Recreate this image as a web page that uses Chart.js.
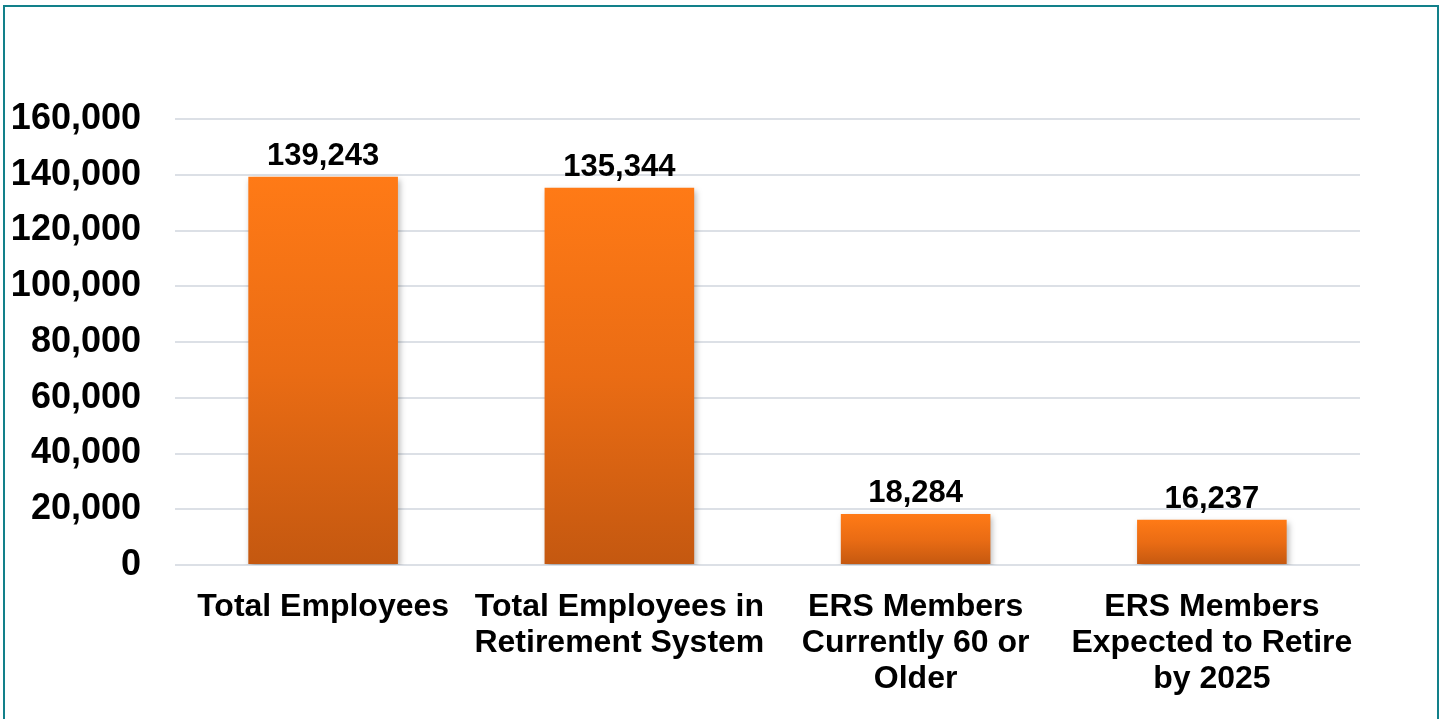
<!DOCTYPE html>
<html>
<head>
<meta charset="utf-8">
<script src="https://cdn.jsdelivr.net/npm/chart.js@4"></script>
<style>
  html, body { margin: 0; padding: 0; background: #fff; overflow: hidden; }
  .frame {
    position: absolute; left: 3px; top: 5px;
    width: 1436px; height: 800px;
    box-sizing: border-box;
    border: 2px solid #12808A;
  }
  #chart { position: absolute; left: 0; top: 0; }
</style>
</head>
<body>
<div class="frame"></div>
<canvas id="chart" width="1442" height="719"></canvas>
<script>
// Chart data
const categories = [
  ['Total Employees'],
  ['Total Employees in', 'Retirement System'],
  ['ERS Members', 'Currently 60 or', 'Older'],
  ['ERS Members', 'Expected to Retire', 'by 2025']
];
const employeeCounts = [139243, 135344, 18284, 16237];
const yTicks = [0, 20000, 40000, 60000, 80000, 100000, 120000, 140000, 160000];

const FONT = 'Arial, "Liberation Sans", sans-serif';

// Vertical orange gradient, one per bar
function barGradient(context) {
  const chart = context.chart;
  const yScale = chart.scales.y;
  if (!chart.chartArea || !yScale) return '#F27014';
  const value = context.raw;
  const top = yScale.getPixelForValue(value);
  const bottom = yScale.getPixelForValue(0);
  const g = chart.ctx.createLinearGradient(0, top, 0, bottom);
  g.addColorStop(0, '#FF7A16');
  g.addColorStop(0.5, '#EA6C14');
  g.addColorStop(1, '#C45810');
  return g;
}

// Soft drop shadow behind the bars
const barShadow = {
  id: 'barShadow',
  beforeDatasetsDraw(chart) {
    const ctx = chart.ctx;
    ctx.save();
    ctx.shadowColor = 'rgba(0,0,0,0.28)';
    ctx.shadowBlur = 6;
    ctx.shadowOffsetX = 2;
    ctx.shadowOffsetY = 3;
  },
  afterDatasetsDraw(chart) {
    chart.ctx.restore();
  }
};

// Value labels above each bar
const valueLabels = {
  id: 'valueLabels',
  afterDatasetsDraw(chart) {
    const ctx = chart.ctx;
    const meta = chart.getDatasetMeta(0);
    ctx.save();
    ctx.font = 'bold 31px ' + FONT;
    ctx.fillStyle = '#000';
    ctx.textAlign = 'center';
    ctx.textBaseline = 'bottom';
    meta.data.forEach((bar, i) => {
      const text = employeeCounts[i].toLocaleString('en-US');
      ctx.fillText(text, bar.x, bar.y - 5);
    });
    ctx.restore();
  }
};

const ctx = document.getElementById('chart').getContext('2d');
new Chart(ctx, {
  type: 'bar',
  data: {
    labels: categories,
    datasets: [{
      data: employeeCounts,
      backgroundColor: barGradient,
      borderWidth: 0,
      categoryPercentage: 1,
      barPercentage: 0.505
    }]
  },
  options: {
    responsive: false,
    animation: false,
    layout: { padding: { top: 119, right: 82, bottom: 0, left: 0 } },
    plugins: {
      legend: { display: false },
      tooltip: { enabled: false }
    },
    scales: {
      x: {
        grid: { display: false },
        border: { display: false },
        ticks: {
          color: '#000',
          padding: 16,
          maxRotation: 0,
          autoSkip: false,
          font: { family: FONT, size: 32, weight: 'bold', lineHeight: 1.125 }
        },
        afterFit(scale) { scale.height = 154; }
      },
      y: {
        min: 0,
        max: 160000,
        afterBuildTicks(scale) { scale.ticks = yTicks.map(v => ({ value: v })); },
        grid: { color: '#DCE0E6', lineWidth: 2, drawTicks: false },
        border: { display: false },
        ticks: {
          color: '#000',
          padding: 34,
          font: { family: FONT, size: 36, weight: 'bold' },
          callback: v => v.toLocaleString('en-US')
        },
        afterFit(scale) { scale.width = 175; }
      }
    }
  },
  plugins: [barShadow, valueLabels]
});
</script>
</body>
</html>
